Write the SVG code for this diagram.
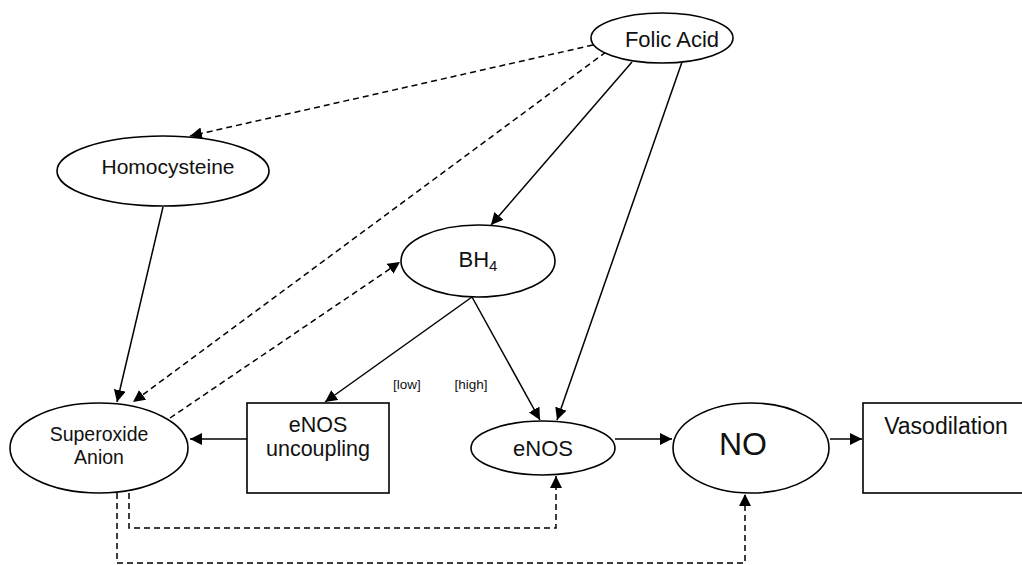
<svg xmlns="http://www.w3.org/2000/svg" width="1022" height="565" viewBox="0 0 1022 565">
<style>
.n{fill:#fff;stroke:#000;stroke-width:1.6}
.t{font-family:"Liberation Sans",Arial,sans-serif;fill:#111;text-anchor:middle}
.c{fill:none;stroke:#000;stroke-width:1.5}
.d{stroke-dasharray:6,4}
</style>
<defs>
<marker id="a" viewBox="0 0 10 10" refX="10" refY="5" markerWidth="12" markerHeight="12" markerUnits="userSpaceOnUse" orient="auto">
<path d="M0,0 L10,5 L0,10 Z" fill="#000"/>
</marker>
</defs>
<rect width="1022" height="565" fill="#fff"/>
<g id="connectors">
<line class="c d" x1="593" y1="45" x2="190" y2="136" marker-end="url(#a)"/>
<line class="c d" x1="606" y1="52" x2="133" y2="402" marker-end="url(#a)"/>
<line class="c" x1="163" y1="207" x2="117" y2="402" marker-end="url(#a)"/>
<line class="c d" x1="170" y1="418" x2="400" y2="262" marker-end="url(#a)"/>
<line class="c" x1="632" y1="62" x2="491" y2="225" marker-end="url(#a)"/>
<line class="c" x1="682" y1="62" x2="557" y2="420" marker-end="url(#a)"/>
<line class="c" x1="472" y1="297" x2="540" y2="420" marker-end="url(#a)"/>
<line class="c" x1="472" y1="297" x2="325" y2="402" marker-end="url(#a)"/>
<line class="c" x1="247" y1="439" x2="190" y2="439" marker-end="url(#a)"/>
<line class="c" x1="615" y1="439" x2="672" y2="439" marker-end="url(#a)"/>
<line class="c" x1="830" y1="439" x2="862" y2="439" marker-end="url(#a)"/>
<polyline class="c d" points="129,493 129,528 556,528 556,476" marker-end="url(#a)"/>
<polyline class="c d" points="117,493 117,563 745,563 745,494" marker-end="url(#a)"/>
<text class="t" x="407" y="389" font-size="13.5">[low]</text>
<text class="t" x="471" y="389" font-size="13.5">[high]</text>
</g>
<g id="folic">
<ellipse class="n" cx="662" cy="38" rx="71" ry="25"/>
<text class="t" x="672" y="47" font-size="22">Folic Acid</text>
</g>
<g id="homocysteine">
<ellipse class="n" cx="163" cy="171" rx="106" ry="35"/>
<text class="t" x="168" y="174" font-size="21">Homocysteine</text>
</g>
<g id="bh4">
<ellipse class="n" cx="478" cy="261" rx="77" ry="36"/>
<text class="t" x="478" y="267" font-size="22">BH<tspan font-size="15" dy="4">4</tspan></text>
</g>
<g id="superoxide">
<ellipse class="n" cx="99" cy="448" rx="89" ry="45"/>
<text class="t" x="99" y="441" font-size="19.5">Superoxide</text>
<text class="t" x="99" y="464" font-size="19.5">Anion</text>
</g>
<g id="uncoupling">
<rect class="n" x="247" y="403" width="142" height="90"/>
<text class="t" x="318" y="432" font-size="21.5">eNOS</text>
<text class="t" x="318" y="456" font-size="21.5">uncoupling</text>
</g>
<g id="enos">
<ellipse class="n" cx="543" cy="448" rx="72" ry="27"/>
<text class="t" x="543" y="456" font-size="22">eNOS</text>
</g>
<g id="no">
<ellipse class="n" cx="751" cy="448" rx="78" ry="45"/>
<text class="t" x="743" y="455" font-size="32">NO</text>
</g>
<g id="vasodilation">
<rect class="n" x="863" y="403" width="170" height="90"/>
<text class="t" x="946" y="434" font-size="23">Vasodilation</text>
</g>
</svg>
